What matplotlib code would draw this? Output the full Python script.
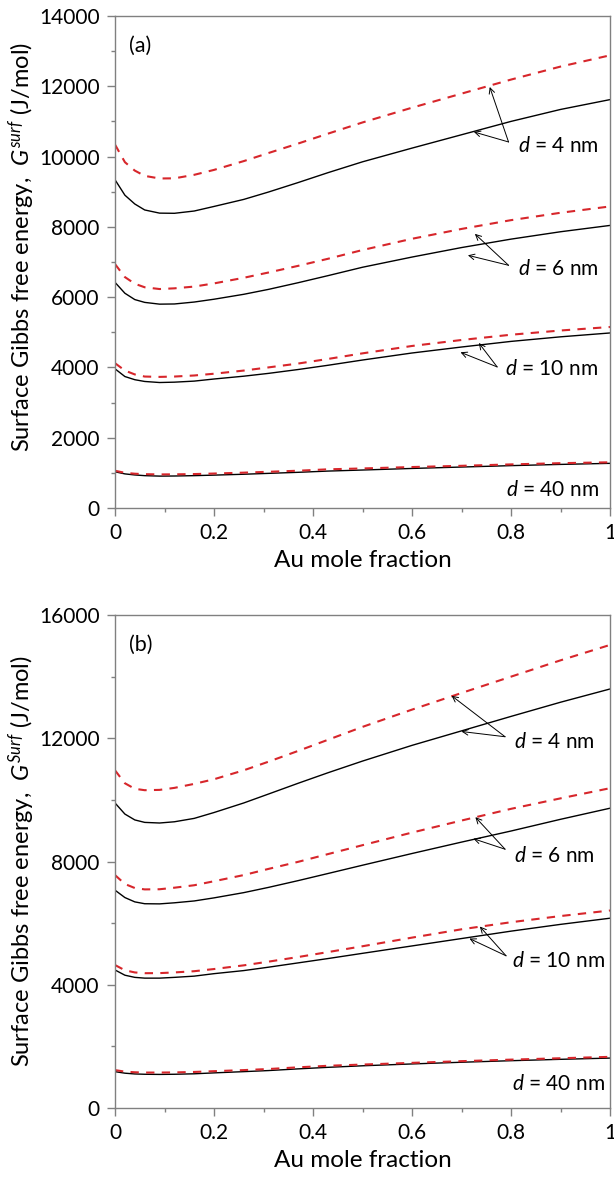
import matplotlib
matplotlib.use("Agg")
import matplotlib.pyplot as plt
from matplotlib.ticker import MultipleLocator

plt.rcParams['font.family'] = ['Lato', 'DejaVu Sans']
plt.rcParams['mathtext.fontset'] = 'custom'
plt.rcParams['mathtext.rm'] = 'Lato'
plt.rcParams['mathtext.it'] = 'Lato:italic'

# Au mole fraction grid shared by all curves
x_au = [0, 0.02, 0.04, 0.06, 0.09, 0.12, 0.16, 0.2, 0.26, 0.31, 0.37, 0.43,
        0.5, 0.6, 0.7, 0.8, 0.9, 1.0]

# panel (a): solid = black curves, dashed = red curves (J/mol)
a_solid_4 = [9340, 8900, 8650, 8480, 8390, 8385, 8450, 8580, 8780, 8990, 9260, 9540,
             9850, 10240, 10620, 11000, 11340, 11620]
a_dash_4 = [10340, 9840, 9600, 9450, 9376, 9380, 9480, 9620, 9870, 10100, 10370, 10650,
            10970, 11390, 11790, 12190, 12560, 12880]
a_solid_6 = [6420, 6110, 5930, 5850, 5800, 5805, 5860, 5940, 6080, 6220, 6410, 6610,
             6850, 7140, 7410, 7650, 7860, 8040]
a_dash_6 = [6940, 6570, 6380, 6280, 6230, 6250, 6300, 6390, 6550, 6700, 6890, 7090,
            7340, 7660, 7940, 8190, 8400, 8580]
a_solid_10 = [3960, 3740, 3650, 3600, 3570, 3580, 3610, 3670, 3750, 3830, 3940, 4060,
              4210, 4410, 4580, 4740, 4870, 4980]
a_dash_10 = [4120, 3910, 3800, 3740, 3730, 3740, 3770, 3820, 3910, 4000, 4110, 4240,
             4400, 4610, 4780, 4930, 5050, 5150]
a_solid_40 = [1030, 970, 940, 920, 907, 910, 920, 935, 960, 985, 1015, 1050,
              1080, 1125, 1165, 1205, 1240, 1270]
a_dash_40 = [1060, 1000, 975, 962, 955, 957, 965, 980, 1005, 1030, 1060, 1100,
             1125, 1165, 1200, 1240, 1275, 1300]

# panel (b)
b_solid_4 = [9900, 9540, 9350, 9270, 9250, 9290, 9400, 9590, 9900, 10190, 10540, 10880,
             11260, 11770, 12240, 12710, 13170, 13600]
b_dash_4 = [10960, 10540, 10360, 10315, 10325, 10390, 10520, 10670, 10960, 11240, 11590, 11950,
            12370, 12930, 13470, 14000, 14530, 15030]
b_solid_6 = [7070, 6830, 6690, 6630, 6625, 6660, 6720, 6820, 6990, 7160, 7380, 7610,
             7880, 8260, 8630, 8990, 9370, 9730]
b_dash_6 = [7560, 7270, 7140, 7095, 7100, 7150, 7230, 7360, 7560, 7760, 7990, 8240,
            8530, 8940, 9330, 9710, 10050, 10380]
b_solid_10 = [4480, 4310, 4240, 4215, 4215, 4240, 4280, 4360, 4460, 4570, 4710, 4850,
              5020, 5260, 5500, 5740, 5960, 6160]
b_dash_10 = [4640, 4470, 4400, 4375, 4378, 4400, 4440, 4510, 4630, 4750, 4900, 5060,
             5250, 5530, 5800, 6030, 6230, 6410]
b_solid_40 = [1180, 1130, 1105, 1095, 1090, 1095, 1110, 1140, 1180, 1215, 1270, 1320,
              1370, 1430, 1485, 1535, 1580, 1620]
b_dash_40 = [1230, 1180, 1160, 1150, 1150, 1155, 1170, 1195, 1230, 1265, 1320, 1370,
             1410, 1465, 1520, 1570, 1615, 1660]

sizes = ['4', '6', '10', '40']
gray = '#808080'
red = '#d7262b'


def style_axes(ax, ymax, ystep, panel, sup, label_y):
    ax.set_xlim(0, 1)
    ax.set_ylim(0, ymax)
    ax.xaxis.set_minor_locator(MultipleLocator(0.1))
    ax.yaxis.set_major_locator(MultipleLocator(ystep))
    ax.yaxis.set_minor_locator(MultipleLocator(ystep / 2))
    ax.set_xticks([0, 0.2, 0.4, 0.6, 0.8, 1.0])
    ax.set_xticklabels(['0', '0.2', '0.4', '0.6', '0.8', '1'])
    for s in ax.spines.values():
        s.set_color(gray)
        s.set_linewidth(1.0)
    ax.tick_params(which='major', direction='out', length=6, width=1.0,
                   color=gray, labelsize=15, pad=5)
    ax.tick_params(which='minor', direction='out', length=2.8, width=1.0, color=gray)
    ax.set_xlabel('Au mole fraction', fontsize=17.5, labelpad=5)
    ax.set_ylabel('Surface Gibbs free energy,  $\\mathit{G}^{\\mathit{%s}}$ (J/mol)' % sup,
                  fontsize=17)
    ax.yaxis.set_label_coords(-0.158, label_y)
    ax.text(0.028, 0.94, panel, transform=ax.transAxes, fontsize=15.5,
            ha='left', va='center')


def draw_panel(ax, solids, dashes, labels, arrows):
    for ys in solids:
        ax.plot(x_au, ys, color='black', lw=1.0, solid_joinstyle='round')
    for ys in dashes:
        ax.plot(x_au, ys, color=red, lw=1.5, linestyle=(0, (4, 3.5)))
    for size, (tx, ty) in zip(sizes, labels):
        ax.text(tx, ty, '$\\mathit{d}$ = %s nm' % size, fontsize=15,
                ha='right', va='center')
    for start, tips in arrows:
        for tip in tips:
            ax.annotate('', xy=tip, xytext=start,
                        arrowprops=dict(arrowstyle='->', lw=0.7, color='black',
                                        shrinkA=0, shrinkB=0))


fig = plt.figure(figsize=(6.14, 11.83), dpi=100)
ax_a = fig.add_axes([0.1873, 0.5706, 0.8062, 0.4159])
ax_b = fig.add_axes([0.1873, 0.0634, 0.8062, 0.4167])

draw_panel(ax_a,
           [a_solid_4, a_solid_6, a_solid_10, a_solid_40],
           [a_dash_4, a_dash_6, a_dash_10, a_dash_40],
           [(0.977, 10300), (0.977, 6810), (0.975, 3960), (0.977, 515)],
           [((0.795, 10415), [(0.757, 11980), (0.725, 10700)]),
            ((0.795, 6906), [(0.727, 7800), (0.713, 7190)]),
            ((0.772, 4014), [(0.735, 4695), (0.698, 4430)])])
style_axes(ax_a, 14000, 2000, '(a)', 'surf', 0.53)

draw_panel(ax_b,
           [b_solid_4, b_solid_6, b_solid_10, b_solid_40],
           [b_dash_4, b_dash_6, b_dash_10, b_dash_40],
           [(0.97, 11870), (0.97, 8195), (0.99, 4780), (0.99, 790)],
           [((0.788, 12050), [(0.680, 13380), (0.70, 12220)]),
            ((0.788, 8400), [(0.728, 9440), (0.724, 8740)]),
            ((0.79, 4940), [(0.737, 5890), (0.716, 5500)])])
style_axes(ax_b, 16000, 4000, '(b)', 'Surf', 0.5)

fig.savefig('out.png', dpi=100)
